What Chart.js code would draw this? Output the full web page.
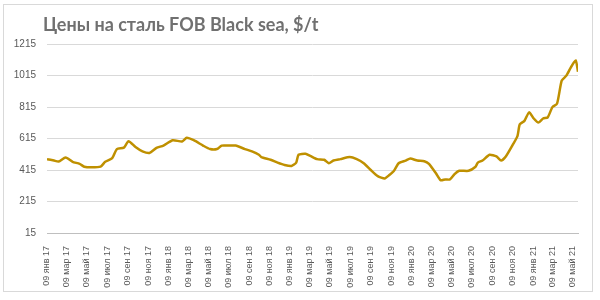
<!DOCTYPE html>
<html>
<head>
<meta charset="utf-8">
<script src="https://cdn.jsdelivr.net/npm/chart.js@4"></script>
<style>
  body { margin: 0; background: #fff; }
  canvas { display: block; }
</style>
</head>
<body>
<canvas id="steelChart" width="600" height="300"></canvas>
<script>
const chartTitle = "Цены на сталь FOB Black sea, $/t";

// weeks since 09.01.2017 and price, $/t
const weekNo = [0, 3, 5, 8, 11, 14, 16, 19, 23, 25, 28, 30, 33, 35, 38, 41, 44, 47, 50, 54,
  58, 60, 63, 67, 70, 73, 75, 78, 81, 85, 88, 91, 92, 96, 99, 102, 105, 107, 108, 111,
  113, 116, 119, 121, 123, 126, 130, 133, 136, 139, 142, 145, 147, 149, 151, 154, 156, 159, 162, 164,
  167, 169, 171, 173, 175, 177, 181, 184, 185, 187, 190, 193, 195, 197, 200, 202, 203, 205, 207, 209,
  211, 213, 215, 217, 219, 221, 223, 225, 227, 228];
const prices = [484, 475, 469, 494, 467, 454, 436, 432, 436, 467, 490, 548, 557, 598, 561, 533, 523, 555, 570, 604,
  596, 620, 604, 570, 548, 548, 570, 570, 570, 548, 533, 512, 497, 480, 462, 447, 441, 462, 512, 518,
  505, 484, 480, 458, 475, 484, 497, 484, 458, 415, 376, 361, 383, 410, 458, 475, 488, 475, 471, 454,
  394, 350, 355, 355, 389, 410, 410, 436, 462, 475, 512, 501, 475, 501, 576, 630, 705, 727, 781, 742,
  716, 742, 749, 814, 836, 982, 1014, 1068, 1111, 1039];

const tickDates = ["2017-01-09", "2017-03-09", "2017-05-09", "2017-07-09", "2017-09-09", "2017-11-09",
  "2018-01-09", "2018-03-09", "2018-05-09", "2018-07-09", "2018-09-09", "2018-11-09",
  "2019-01-09", "2019-03-09", "2019-05-09", "2019-07-09", "2019-09-09", "2019-11-09",
  "2020-01-09", "2020-03-09", "2020-05-09", "2020-07-09", "2020-09-09", "2020-11-09",
  "2021-01-09", "2021-03-09", "2021-05-09"];
const tickLabels = ["09 янв 17", "09 мар 17", "09 май 17", "09 июл 17", "09 сен 17", "09 ноя 17",
  "09 янв 18", "09 мар 18", "09 май 18", "09 июл 18", "09 сен 18", "09 ноя 18",
  "09 янв 19", "09 мар 19", "09 май 19", "09 июл 19", "09 сен 19", "09 ноя 19",
  "09 янв 20", "09 мар 20", "09 май 20", "09 июл 20", "09 сен 20", "09 ноя 20",
  "09 янв 21", "09 мар 21", "09 май 21"];

const startDay = Date.parse("2017-01-09");
const toDay = d => (Date.parse(d) - startDay) / 86400000;
const tickDays = tickDates.map(toDay);
const points = weekNo.map((w, i) => ({ x: w * 7, y: prices[i] }));

const frame = {
  id: 'frame',
  afterDraw(chart) {
    const ctx = chart.ctx;
    ctx.save();
    ctx.strokeStyle = '#d9d9d9';
    ctx.lineWidth = 1;
    ctx.strokeRect(3.5, 4.5, 589, 287);
    ctx.fillStyle = '#707070';
    ctx.font = 'bold 18px Lato';
    ctx.textBaseline = 'middle';
    ctx.fillText(chartTitle, 43, 25);
    ctx.restore();
  }
};

new Chart(document.getElementById('steelChart'), {
  type: 'line',
  data: {
    datasets: [{
      data: points,
      borderColor: '#bf9000',
      borderWidth: 2.5,
      pointRadius: 0,
      tension: 0.2,
      fill: false
    }]
  },
  options: {
    responsive: false,
    animation: false,
    layout: { padding: { left: 3, right: 22, top: 44, bottom: 5 } },
    plugins: { legend: { display: false }, tooltip: { enabled: false } },
    scales: {
      x: {
        type: 'linear',
        min: 0,
        max: weekNo[weekNo.length - 1] * 7,
        afterBuildTicks: scale => { scale.ticks = tickDays.map(v => ({ value: v })); },
        afterFit: scale => { scale.height = 62; },
        grid: { display: false },
        border: { display: true, color: '#bfbfbf' },
        ticks: {
          autoSkip: false,
          maxRotation: 90,
          minRotation: 90,
          padding: 5,
          color: '#595959',
          font: { family: 'Liberation Sans', size: 9 },
          callback: (v, i) => tickLabels[i]
        }
      },
      y: {
        min: 15,
        max: 1215,
        afterFit: scale => { scale.width = 44; },
        grid: { color: '#d9d9d9', drawTicks: false },
        border: { display: false },
        ticks: {
          stepSize: 200,
          padding: 11,
          color: '#595959',
          font: { family: 'Liberation Sans', size: 10 },
          callback: v => String(v)
        }
      }
    }
  },
  plugins: [frame]
});
</script>
</body>
</html>
